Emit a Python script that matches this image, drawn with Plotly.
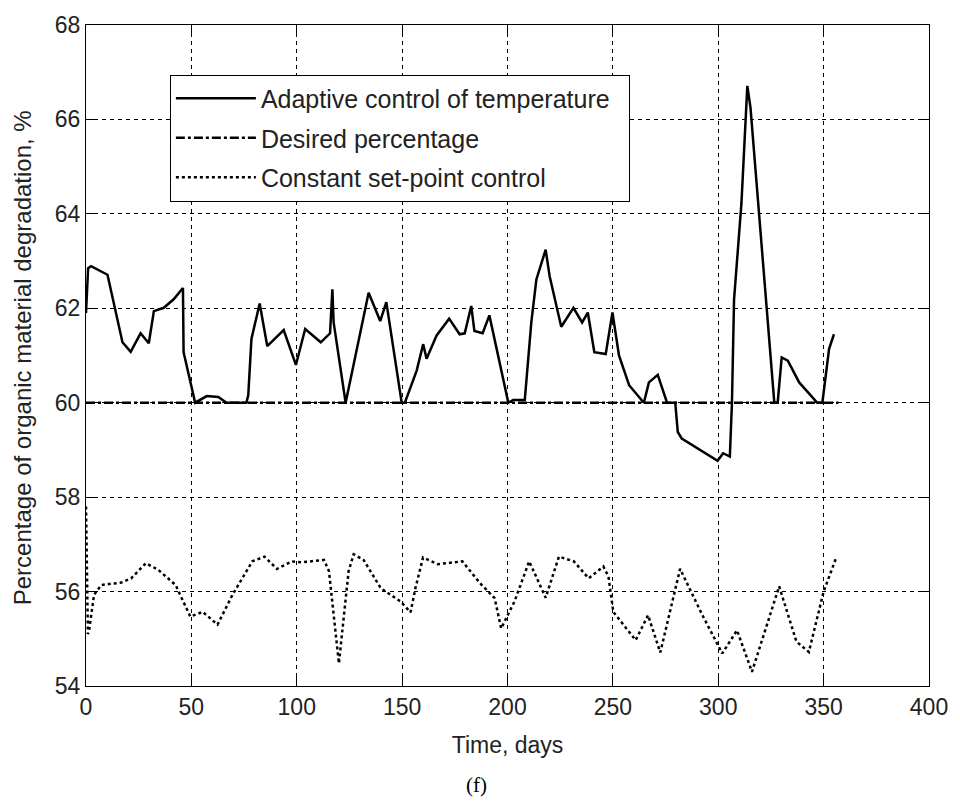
import plotly.graph_objects as go

# Adaptive control of temperature (solid)
adaptive_x = [0, 1, 2.4, 10.2, 17.3, 21.2, 25.9, 29.8, 32.2, 36.9, 41.6, 46.0, 46.3, 51.8, 57.3, 62.8, 66.7,
              76.1, 77.0, 78.5, 82.4, 86.0, 93.8, 99.6, 104.0, 111.4, 115.8, 116.9, 117.5, 123.2, 134.1, 139.6,
              142.5, 149.8, 151.3, 156.9, 160.0, 161.6, 166.3, 172.3, 177.3, 179.7, 182.8, 184.3, 188.2, 191.4,
              200.4, 202.7, 208.2, 211.3, 213.7, 218.1, 220.0, 225.5, 231.3, 235.4, 238.1, 241.2, 246.6, 249.8,
              252.9, 257.7, 264.7, 267.1, 271.3, 275.7, 279.6, 280.8, 282.7, 299.7, 302.3, 305.5, 306.5, 307.5,
              311.0, 313.8, 315.3, 320.4, 326.6, 328.2, 330.1, 333.0, 338.4, 347.0, 349.4, 352.6, 354.9]
adaptive_y = [61.9, 62.85, 62.89, 62.71, 61.28, 61.08, 61.47, 61.26, 61.94, 62.01, 62.19, 62.43, 61.07, 60.0,
              60.14, 60.12, 60.0, 60.0, 60.16, 61.35, 62.1, 61.2, 61.54, 60.8, 61.56, 61.28, 61.47, 62.4, 61.7,
              60.0, 62.33, 61.73, 62.13, 60.0, 60.0, 60.68, 61.24, 60.93, 61.42, 61.78, 61.45, 61.47, 62.05,
              61.52, 61.47, 61.85, 60.0, 60.06, 60.06, 61.7, 62.61, 63.24, 62.68, 61.61, 62.01, 61.7, 61.91,
              61.07, 61.03, 61.91, 61.0, 60.37, 60.0, 60.43, 60.59, 60.0, 60.0, 59.38, 59.24, 58.77, 58.93,
              58.86, 60.0, 62.19, 64.22, 66.71, 66.25, 63.38, 60.0, 60.0, 60.96, 60.89, 60.43, 60.0, 60.0,
              61.14, 61.45]

# Desired percentage (dash-dot)
desired_x = [0, 357]
desired_y = [60, 60]

# Constant set-point control (dotted)
constant_x = [0, 0.9, 1.4, 3.8, 7.3, 16.7, 21.4, 28.4, 34.3, 42.5, 49.5, 55.4, 62.4, 69.5, 78.9, 84.7, 90.6,
              97.7, 102.3, 112.9, 115.3, 120.0, 124.6, 127.0, 131.7, 139.9, 149.3, 154.0, 156.3, 159.9, 166.9,
              178.6, 186.9, 193.9, 197.0, 203.3, 210.3, 218.1, 224.4, 231.5, 238.5, 245.5, 247.9, 250.2, 260.8,
              266.7, 272.5, 281.9, 292.5, 301.9, 308.9, 316.0, 328.9, 337.1, 343.0, 350.0, 355.9]
constant_y = [57.8, 55.1, 55.15, 55.93, 56.14, 56.19, 56.28, 56.6, 56.46, 56.14, 55.47, 55.57, 55.3, 55.93,
              56.64, 56.74, 56.48, 56.64, 56.62, 56.67, 56.43, 54.48, 56.43, 56.79, 56.67, 56.07, 55.79, 55.56,
              56.07, 56.72, 56.58, 56.64, 56.18, 55.86, 55.22, 55.79, 56.64, 55.87, 56.74, 56.64, 56.28, 56.53,
              56.32, 55.57, 54.97, 55.5, 54.71, 56.48, 55.5, 54.69, 55.18, 54.3, 56.11, 54.94, 54.72, 56.0,
              56.71]

x_ticks = [0, 50, 100, 150, 200, 250, 300, 350, 400]
y_ticks = [54, 56, 58, 60, 62, 64, 66, 68]

FONT = "Liberation Sans, Arial, sans-serif"

fig = go.Figure()
fig.add_trace(go.Scatter(x=adaptive_x, y=adaptive_y, mode="lines",
                         name="Adaptive control of temperature\u00a0\u00a0", legendgroup="a",
                         line=dict(color="black", width=2.5, dash="solid")))
fig.add_trace(go.Scatter(x=desired_x, y=desired_y, mode="lines",
                         name="Desired percentage", legendgroup="b",
                         line=dict(color="black", width=2.5, dash="dashdot")))
fig.add_trace(go.Scatter(x=constant_x, y=constant_y, mode="lines",
                         name="Constant set-point control", legendgroup="c",
                         line=dict(color="black", width=2.5, dash="dot")))

axis_common = dict(
    showline=True, linecolor="black", linewidth=1, mirror="ticks",
    ticks="inside", ticklen=9, tickwidth=1, tickcolor="black",
    showgrid=True, gridcolor="black", gridwidth=1, griddash="4px,4px",
    zeroline=False,
    tickfont=dict(family=FONT, size=23, color="#222"),
)

fig.update_xaxes(range=[0, 400], tickvals=x_ticks, ticktext=[str(v) for v in x_ticks],
                 title=dict(text="Time, days", font=dict(family=FONT, size=23, color="#222"), standoff=18),
                 **axis_common)
fig.update_yaxes(range=[54, 68], tickvals=y_ticks, ticktext=[str(v) for v in y_ticks],
                 **axis_common)

fig.update_layout(
    width=960, height=801,
    margin=dict(l=86, r=24, t=20, b=115),
    paper_bgcolor="white", plot_bgcolor="white",
    showlegend=True,
    legend=dict(x=0.0995, y=0.925, xanchor="left", yanchor="top",
                bgcolor="white", bordercolor="black", borderwidth=1,
                font=dict(family=FONT, size=25, color="#222"),
                itemwidth=80, tracegroupgap=4),
    annotations=[
        dict(text="Percentage of organic material degradation, %", textangle=-90,
             xref="paper", yref="paper", x=-0.075, y=0.497,
             xanchor="center", yanchor="middle", showarrow=False,
             font=dict(family=FONT, size=24, color="#222")),
        dict(text="(f)", xref="paper", yref="paper", x=0.4635, y=-0.15,
             xanchor="center", yanchor="middle", showarrow=False,
             font=dict(family="Liberation Serif, Times New Roman, serif", size=21, color="black")),
    ],
)

fig.write_html("out.html")
